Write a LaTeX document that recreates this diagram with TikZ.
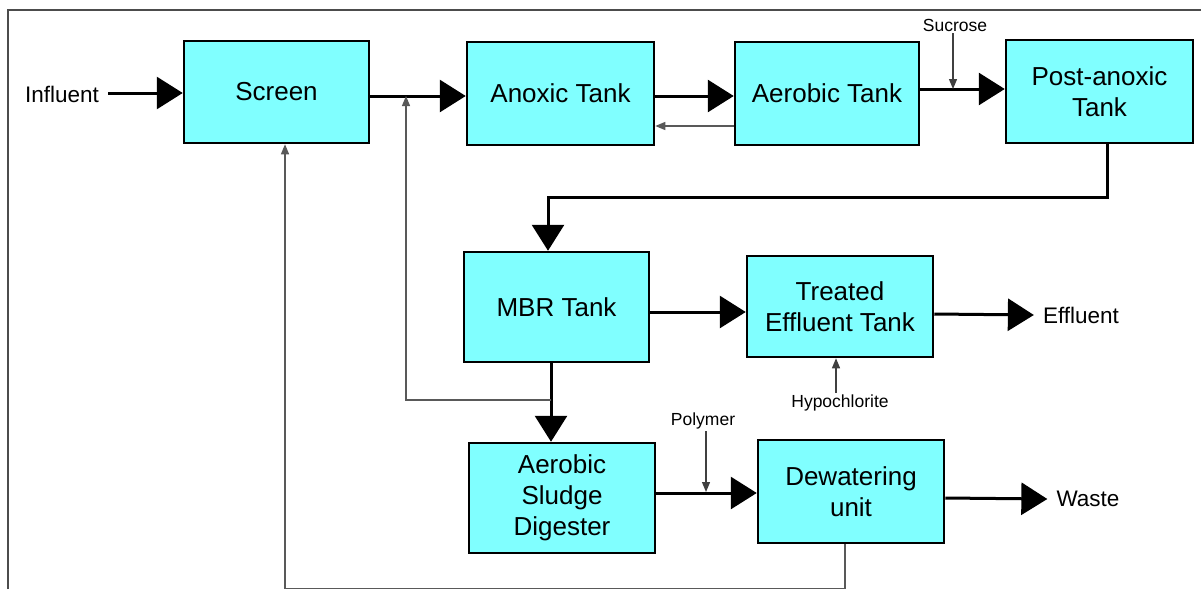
\documentclass[tikz,border=0pt]{standalone}
\usepackage{fontspec}
\setmainfont{Liberation Sans}
\usetikzlibrary{arrows.meta}
\definecolor{boxcyan}{HTML}{80FFFF}
\begin{document}
\begin{tikzpicture}[x=1pt,y=-1pt,
  tank/.style={draw=black,line width=2.5pt,fill=boxcyan,inner sep=0pt,align=center,
    font=\fontsize{26}{31}\selectfont},
  biglbl/.style={font=\fontsize{22.5}{26}\selectfont,inner xsep=9pt,inner ysep=3pt},
  smalllbl/.style={font=\fontsize{17.5}{20}\selectfont,inner sep=2pt},
  flow/.style={line width=3pt,-{Triangle[length=26pt,width=32pt]}},
  feed/.style={line width=1.2pt,draw=black!65,-{Triangle[length=10pt,width=8pt]}},
  dose/.style={line width=1.2pt,draw=black!75,-{Triangle[length=10pt,width=8pt]}}]
\useasboundingbox (0,0) rectangle (1201,589);
\draw[line width=1.2pt,black!70] (8,589) -- (8,10) -- (1201,10);

\node[tank,minimum width=185pt,minimum height=102pt] (screen) at (276.5,92) {Screen};
\node[tank,minimum width=187pt,minimum height=103pt] (anoxic) at (560.5,93.5) {Anoxic Tank};
\node[tank,minimum width=184pt,minimum height=103pt] (aerobic) at (827,93.5) {Aerobic Tank};
\node[tank,minimum width=187pt,minimum height=103pt] (post) at (1099.5,91.5) {Post-anoxic\\Tank};
\node[tank,minimum width=185pt,minimum height=110pt] (mbr) at (556.5,307) {MBR Tank};
\node[tank,minimum width=186pt,minimum height=101pt] (treated) at (840,306.5) {Treated\\Effluent Tank};
\node[tank,minimum width=186pt,minimum height=110pt] (digester) at (562,498) {Aerobic\\Sludge\\Digester};
\node[tank,minimum width=186pt,minimum height=103pt] (dewater) at (851,491.5) {Dewatering\\unit};

\node[biglbl] (influent) at (62,94) {Influent};
\node[biglbl] (effluent) at (1081,315) {Effluent};
\node[biglbl] (waste) at (1088,499) {Waste};
\node[smalllbl] (sucrose) at (955,25) {Sucrose};
\node[smalllbl] (hypo) at (840,403) {Hypochlorite};
\node[smalllbl] (polymer) at (703,421) {Polymer};

\coordinate (j1) at (953,89);
\coordinate (j2) at (706,492);
\coordinate (r1) at (551,400);
\coordinate (r2) at (406,96);

% main flow
\draw[flow] (influent.east |- 0,93) -- (screen.west |- 0,93);
\draw[flow] ([yshift=-4pt]screen.east) -- ([yshift=-2.5pt]anoxic.west);
\draw[flow] ([yshift=-2.5pt]anoxic.east) -- ([yshift=-2.5pt]aerobic.west);
\draw[flow] ([yshift=4.5pt]aerobic.east) -- ([yshift=2.5pt]post.west);
\draw[flow] ([xshift=7.5pt]post.south) -- ++(0,53) -| ([xshift=-8.5pt]mbr.north);
\draw[flow] ([yshift=-5pt]mbr.east) -- ([yshift=-5.5pt]treated.west);
\draw[flow] ([yshift=-7.5pt]treated.east) -- (effluent.west);
\draw[flow] ([xshift=-5.5pt]mbr.south) -- ([xshift=-11pt]digester.north);
\draw[flow] ([yshift=5pt]digester.east) -- ([yshift=-1.5pt]dewater.west);
\draw[flow] ([yshift=-6.5pt]dewater.east) -- (waste.west);

% recycles and dosing
\draw[feed] ([yshift=-32.5pt]aerobic.west) -- ([yshift=-32.5pt]anoxic.east);
\draw[feed] (r1) -| (r2);
\draw[feed] ([xshift=-6pt]dewater.south) -- ++(0,44) -| ([xshift=8.5pt]screen.south);
\draw[dose] (sucrose.south -| j1) -- (j1);
\draw[dose] (hypo.north -| 836,0) -- ([xshift=-4pt]treated.south);
\draw[dose] (polymer.south -| j2) -- (j2);
\end{tikzpicture}
\end{document}
